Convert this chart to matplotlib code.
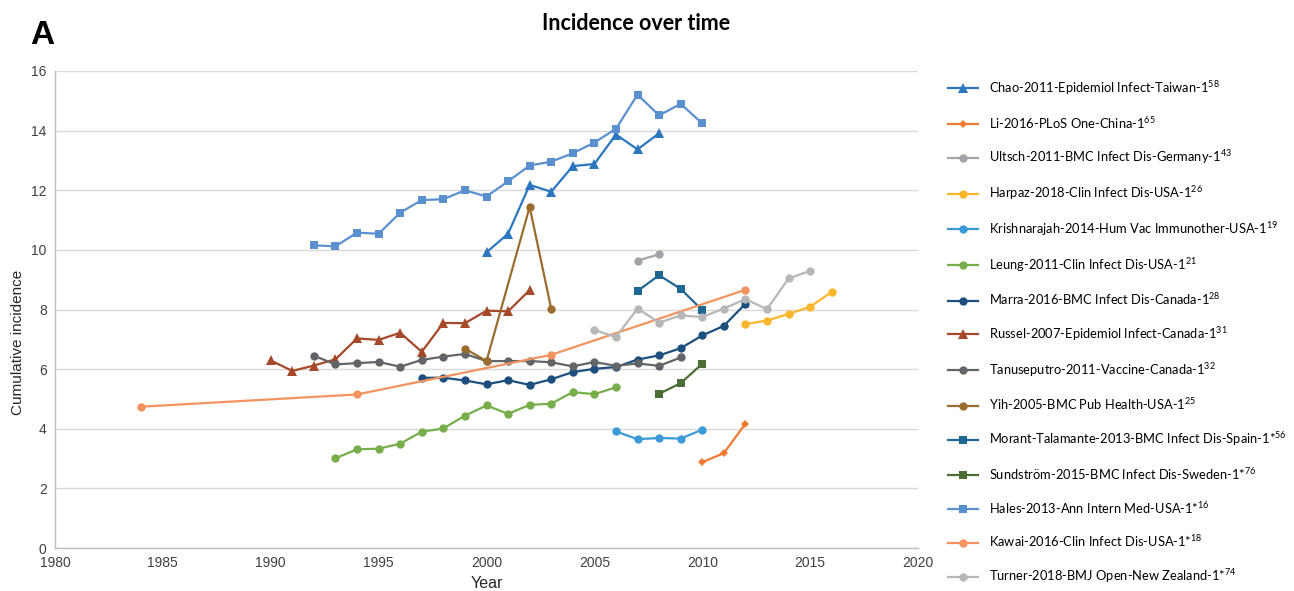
import matplotlib
matplotlib.use("Agg")
import matplotlib.pyplot as plt
from matplotlib.lines import Line2D

plt.rcParams['mathtext.fontset'] = 'custom'
plt.rcParams['mathtext.rm'] = 'Lato'
plt.rcParams['mathtext.it'] = 'Lato'

# ---- data: cumulative incidence by study ----
chao_years = [2000, 2001, 2002, 2003, 2004, 2005, 2006, 2007, 2008]
chao_vals = [9.92, 10.54, 12.18, 11.95, 12.81, 12.88, 13.87, 13.37, 13.91]

li_years = [2010, 2011, 2012]
li_vals = [2.88, 3.18, 4.17]

ultsch_years = [2007, 2008]
ultsch_vals = [9.64, 9.85]

harpaz_years = [2012, 2013, 2014, 2015, 2016]
harpaz_vals = [7.51, 7.63, 7.85, 8.09, 8.59]

krish_years = [2006, 2007, 2008, 2009, 2010]
krish_vals = [3.91, 3.65, 3.69, 3.67, 3.97]

leung_years = list(range(1993, 2007))
leung_vals = [3.01, 3.31, 3.33, 3.50, 3.90, 4.01, 4.44, 4.78, 4.50, 4.80, 4.84, 5.23, 5.16, 5.39]

marra_years = list(range(1997, 2013))
marra_vals = [5.71, 5.71, 5.62, 5.49, 5.63, 5.47, 5.66, 5.90, 6.01, 6.07, 6.32, 6.46, 6.70, 7.13, 7.45, 8.19]

russel_years = list(range(1990, 2003))
russel_vals = [6.29, 5.94, 6.12, 6.33, 7.03, 6.98, 7.22, 6.58, 7.55, 7.54, 7.96, 7.94, 8.65]

tanu_years = list(range(1992, 2010))
tanu_vals = [6.45, 6.16, 6.20, 6.24, 6.08, 6.31, 6.42, 6.51, 6.27, 6.27, 6.27, 6.23, 6.09, 6.24, 6.11, 6.19, 6.11, 6.39]

yih_years = [1999, 2000, 2002, 2003]
yih_vals = [6.69, 6.27, 11.44, 8.02]

morant_years = [2007, 2008, 2009, 2010]
morant_vals = [8.62, 9.15, 8.69, 7.98]

sund_years = [2008, 2009, 2010]
sund_vals = [5.17, 5.53, 6.18]

hales_years = list(range(1992, 2011))
hales_vals = [10.15, 10.12, 10.58, 10.54, 11.25, 11.67, 11.70, 12.00, 11.79, 12.30,
              12.83, 12.96, 13.24, 13.60, 14.06, 15.21, 14.51, 14.90, 14.24]

kawai_years = [1984, 1994, 2003, 2012]
kawai_vals = [4.74, 5.15, 6.48, 8.66]

turner_years = list(range(2005, 2016))
turner_vals = [7.31, 7.08, 8.03, 7.56, 7.80, 7.75, 8.03, 8.35, 8.01, 9.04, 9.30]

series = [
    ("Chao-2011-Epidemiol Infect-Taiwan-1$^{58}$", chao_years, chao_vals, "#2A77C0", "^"),
    ("Li-2016-PLoS One-China-1$^{65}$", li_years, li_vals, "#F07A32", "D"),
    ("Ultsch-2011-BMC Infect Dis-Germany-1$^{43}$", ultsch_years, ultsch_vals, "#A2A4A7", "o"),
    ("Harpaz-2018-Clin Infect Dis-USA-1$^{26}$", harpaz_years, harpaz_vals, "#FBB62C", "o"),
    ("Krishnarajah-2014-Hum Vac Immunother-USA-1$^{19}$", krish_years, krish_vals, "#3B9BD8", "o"),
    ("Leung-2011-Clin Infect Dis-USA-1$^{21}$", leung_years, leung_vals, "#77AD4B", "o"),
    ("Marra-2016-BMC Infect Dis-Canada-1$^{28}$", marra_years, marra_vals, "#1C4E7E", "o"),
    ("Russel-2007-Epidemiol Infect-Canada-1$^{31}$", russel_years, russel_vals, "#A6482A", "^"),
    ("Tanuseputro-2011-Vaccine-Canada-1$^{32}$", tanu_years, tanu_vals, "#626568", "o"),
    ("Yih-2005-BMC Pub Health-USA-1$^{25}$", yih_years, yih_vals, "#9A6C2E", "o"),
    ("Morant-Talamante-2013-BMC Infect Dis-Spain-1*$^{56}$", morant_years, morant_vals, "#1E6795", "s"),
    ("Sundström-2015-BMC Infect Dis-Sweden-1*$^{76}$", sund_years, sund_vals, "#4A6E35", "s"),
    ("Hales-2013-Ann Intern Med-USA-1*$^{16}$", hales_years, hales_vals, "#5B90D0", "s"),
    ("Kawai-2016-Clin Infect Dis-USA-1*$^{18}$", kawai_years, kawai_vals, "#F4935F", "o"),
    ("Turner-2018-BMJ Open-New Zealand-1*$^{74}$", turner_years, turner_vals, "#B5B7B9", "o"),
]

marker_sizes = {"^": 6.5, "D": 4.5, "o": 6.0, "s": 6.0}

fig = plt.figure(figsize=(12.94, 5.91), dpi=100)
ax = fig.add_axes([55 / 1294, 1 - 548 / 591, (918 - 55) / 1294, (548 - 71) / 591])

handles = []
for label, xs, ys, color, mk in series:
    ax.plot(xs, ys, color=color, marker=mk, markersize=marker_sizes[mk],
            linewidth=1.6, markeredgewidth=0, zorder=3)
    handles.append(Line2D([], [], color=color, marker=mk,
                          markersize=marker_sizes[mk], linewidth=1.6,
                          markeredgewidth=0, label=label))

ax.set_xlim(1980, 2020)
ax.set_ylim(0, 16)
ax.set_xticks(range(1980, 2021, 5))
ax.set_yticks(range(0, 17, 2))
ax.grid(axis='y', color='#D9D9D9', linewidth=1.0, zorder=0)
ax.set_axisbelow(True)
for side in ('top', 'right'):
    ax.spines[side].set_visible(False)
for side in ('left', 'bottom'):
    ax.spines[side].set_color('#BFBFBF')
    ax.spines[side].set_linewidth(1.0)
ax.tick_params(length=0, labelsize=10, labelcolor='#404040', pad=6)
for t in ax.get_xticklabels() + ax.get_yticklabels():
    t.set_fontfamily('Liberation Sans')

ax.set_xlabel("Year", fontsize=11.5, family='Liberation Sans', color='#262626', labelpad=4)
fig.text(18 / 1294, 1 - 342 / 591, "Cumulative incidence", rotation=90,
         ha='center', va='center', fontsize=11, family='Liberation Sans', color='#262626')

fig.text(636 / 1294, 1 - 24 / 591, "Incidence over time", ha='center', va='center',
         fontsize=15.5, fontweight='bold', family='Lato')
fig.text(30 / 1294, 1 - 35 / 591, "A", ha='left', va='center',
         fontsize=24, fontweight='bold', family='Liberation Sans')

fig.legend(handles=handles, loc='upper left', bbox_to_anchor=(948 / 1294, 1 - 79 / 591),
           frameon=False, prop={'family': 'Lato', 'size': 9.3},
           handlelength=2.35, handletextpad=0.85, labelspacing=1.38,
           borderpad=0, borderaxespad=0)

fig.savefig("out.png", dpi=100, facecolor='white')
